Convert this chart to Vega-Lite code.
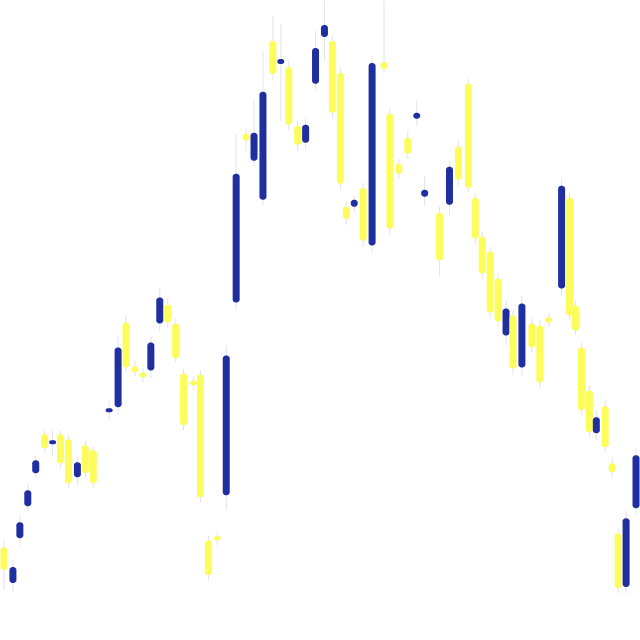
{
  "$schema": "https://vega.github.io/schema/vega-lite/v6.json",
  "description": "Candlestick chart with no axes, blue up / yellow down.",
  "width": 640,
  "height": 640,
  "autosize": {"type": "fit", "contains": "padding"},
  "padding": 0,
  "background": "white",
  "config": {"view": {"stroke": null}},
  "data": {
    "values": [
      {"t": 1, "o": 93, "c": 70, "h": 100, "l": 50},
      {"t": 10, "o": 57, "c": 73, "h": 80, "l": 48},
      {"t": 17, "o": 102, "c": 118, "h": 125, "l": 95},
      {"t": 25, "o": 134, "c": 150, "h": 157, "l": 128},
      {"t": 33, "o": 167, "c": 180, "h": 185, "l": 162},
      {"t": 42, "o": 206, "c": 192, "h": 210, "l": 188},
      {"t": 50, "o": 196, "c": 200, "h": 210, "l": 185},
      {"t": 58, "o": 206, "c": 177, "h": 210, "l": 172},
      {"t": 66, "o": 201, "c": 157, "h": 205, "l": 152},
      {"t": 75, "o": 163, "c": 178, "h": 185, "l": 155},
      {"t": 83, "o": 195, "c": 167, "h": 200, "l": 162},
      {"t": 91, "o": 190, "c": 157, "h": 194, "l": 152},
      {"t": 107, "o": 228, "c": 232, "h": 240, "l": 220},
      {"t": 116, "o": 233, "c": 293, "h": 305, "l": 225},
      {"t": 124, "o": 318, "c": 273, "h": 325, "l": 268},
      {"t": 133, "o": 274, "c": 268, "h": 280, "l": 264},
      {"t": 141, "o": 268, "c": 263, "h": 272, "l": 258},
      {"t": 149, "o": 270, "c": 298, "h": 305, "l": 262},
      {"t": 158, "o": 317, "c": 343, "h": 352, "l": 310},
      {"t": 166, "o": 336, "c": 318, "h": 342, "l": 314},
      {"t": 174, "o": 317, "c": 282, "h": 322, "l": 278},
      {"t": 182, "o": 267, "c": 215, "h": 272, "l": 210},
      {"t": 192, "o": 260, "c": 255, "h": 264, "l": 250},
      {"t": 199, "o": 266, "c": 143, "h": 270, "l": 138},
      {"t": 207, "o": 100, "c": 65, "h": 105, "l": 60},
      {"t": 216, "o": 104, "c": 100, "h": 108, "l": 95},
      {"t": 225, "o": 145, "c": 285, "h": 295, "l": 130},
      {"t": 235, "o": 338, "c": 467, "h": 507, "l": 330},
      {"t": 245, "o": 507, "c": 500, "h": 512, "l": 490},
      {"t": 253, "o": 480, "c": 508, "h": 540, "l": 475},
      {"t": 262, "o": 441, "c": 549, "h": 590, "l": 435},
      {"t": 272, "o": 600, "c": 567, "h": 625, "l": 560},
      {"t": 280, "o": 577, "c": 582, "h": 617, "l": 520},
      {"t": 288, "o": 574, "c": 516, "h": 580, "l": 510},
      {"t": 297, "o": 515, "c": 496, "h": 520, "l": 490},
      {"t": 305, "o": 498, "c": 516, "h": 522, "l": 492},
      {"t": 315, "o": 557, "c": 593, "h": 610, "l": 550},
      {"t": 324, "o": 604, "c": 616, "h": 640, "l": 580},
      {"t": 332, "o": 600, "c": 528, "h": 605, "l": 522},
      {"t": 340, "o": 568, "c": 457, "h": 574, "l": 450},
      {"t": 346, "o": 434, "c": 422, "h": 440, "l": 416},
      {"t": 354, "o": 434, "c": 441, "h": 445, "l": 428},
      {"t": 363, "o": 453, "c": 400, "h": 458, "l": 394},
      {"t": 372, "o": 395, "c": 578, "h": 585, "l": 388},
      {"t": 384, "o": 579, "c": 572, "h": 640, "l": 568},
      {"t": 390, "o": 527, "c": 412, "h": 532, "l": 405},
      {"t": 399, "o": 477, "c": 467, "h": 482, "l": 462},
      {"t": 408, "o": 503, "c": 487, "h": 510, "l": 482},
      {"t": 417, "o": 522, "c": 528, "h": 540, "l": 515},
      {"t": 425, "o": 444, "c": 451, "h": 465, "l": 435},
      {"t": 440, "o": 428, "c": 380, "h": 435, "l": 365},
      {"t": 450, "o": 436, "c": 474, "h": 480, "l": 425},
      {"t": 459, "o": 494, "c": 461, "h": 500, "l": 455},
      {"t": 469, "o": 557, "c": 453, "h": 562, "l": 448},
      {"t": 476, "o": 443, "c": 402, "h": 448, "l": 396},
      {"t": 483, "o": 404, "c": 367, "h": 409, "l": 362},
      {"t": 491, "o": 389, "c": 328, "h": 394, "l": 322},
      {"t": 499, "o": 362, "c": 319, "h": 367, "l": 314},
      {"t": 507, "o": 305, "c": 332, "h": 340, "l": 295},
      {"t": 514, "o": 325, "c": 272, "h": 330, "l": 266},
      {"t": 523, "o": 273, "c": 337, "h": 345, "l": 265},
      {"t": 533, "o": 317, "c": 293, "h": 322, "l": 288},
      {"t": 541, "o": 315, "c": 258, "h": 320, "l": 252},
      {"t": 550, "o": 323, "c": 318, "h": 328, "l": 313},
      {"t": 563, "o": 352, "c": 455, "h": 462, "l": 345},
      {"t": 571, "o": 443, "c": 325, "h": 448, "l": 320},
      {"t": 577, "o": 335, "c": 310, "h": 340, "l": 305},
      {"t": 583, "o": 293, "c": 230, "h": 298, "l": 225},
      {"t": 591, "o": 250, "c": 208, "h": 255, "l": 203},
      {"t": 598, "o": 207, "c": 223, "h": 230, "l": 200},
      {"t": 607, "o": 234, "c": 193, "h": 240, "l": 188},
      {"t": 614, "o": 177, "c": 168, "h": 182, "l": 163},
      {"t": 620, "o": 107, "c": 52, "h": 112, "l": 47},
      {"t": 628, "o": 53, "c": 122, "h": 130, "l": 47},
      {"t": 638, "o": 132, "c": 185, "h": 192, "l": 125}
    ]
  },
  "encoding": {
    "x": {
      "field": "t",
      "type": "quantitative",
      "scale": {"domain": [0, 640], "nice": false, "zero": false, "padding": 0},
      "axis": null
    }
  },
  "layer": [
    {
      "mark": {"type": "rule", "color": "#e2e2f0", "strokeWidth": 1},
      "encoding": {
        "y": {
          "field": "l",
          "type": "quantitative",
          "scale": {"domain": [0, 640], "nice": false, "zero": false},
          "axis": null
        },
        "y2": {"field": "h"}
      }
    },
    {
      "mark": {"type": "bar", "width": 7, "cornerRadius": 3},
      "encoding": {
        "y": {"field": "o", "type": "quantitative"},
        "y2": {"field": "c"},
        "color": {
          "condition": {"test": "datum.o < datum.c", "value": "#1f2f9f"},
          "value": "#fcfc5a"
        }
      }
    }
  ]
}
